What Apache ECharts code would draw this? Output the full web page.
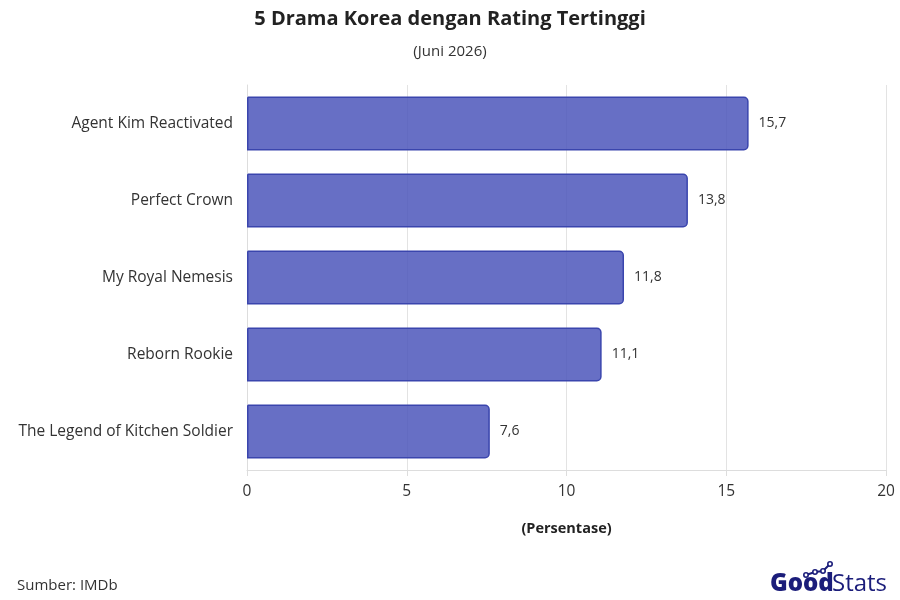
<!DOCTYPE html>
<html>
<head>
<meta charset="utf-8">
<script src="https://cdn.jsdelivr.net/npm/echarts@6/dist/echarts.min.js"></script>
<style>
  html, body { margin: 0; padding: 0; background: #fff; }
  #chart { width: 900px; height: 600px; }
</style>
</head>
<body>
<div id="chart"></div>
<script>
// data
var dramaNames = [
  'Agent Kim Reactivated',
  'Perfect Crown',
  'My Royal Nemesis',
  'Reborn Rookie',
  'The Legend of Kitchen Soldier'
];
var ratingValues = [15.7, 13.8, 11.8, 11.1, 7.6];
var axisTicks = [0, 5, 10, 15, 20];

var font = '"Open Sans", sans-serif';
var chart = echarts.init(document.getElementById('chart'));

var option = {
  backgroundColor: '#ffffff',
  animation: false,
  title: {
    text: '5 Drama Korea dengan Rating Tertinggi',
    subtext: '(Juni 2026)',
    left: 'center',
    top: 4,
    itemGap: 15,
    textStyle: { fontFamily: font, fontSize: 20, fontWeight: 'bold', color: '#222' },
    subtextStyle: { fontFamily: font, fontSize: 15, color: '#333' }
  },
  grid: { left: 247, right: 14, top: 85, bottom: 130 },
  xAxis: {
    type: 'value',
    min: axisTicks[0],
    max: axisTicks[axisTicks.length - 1],
    interval: 5,
    name: '(Persentase)',
    nameLocation: 'middle',
    nameGap: 51,
    nameTextStyle: { fontFamily: font, fontSize: 14.5, fontWeight: 'bold', color: '#222' },
    axisLine: { show: true, lineStyle: { color: '#dddddd' } },
    axisTick: { show: true, length: 6, lineStyle: { color: '#dddddd' } },
    axisLabel: { fontFamily: font, fontSize: 15.5, color: '#333', margin: 14 },
    splitLine: { show: true, lineStyle: { color: '#e3e3e3' } }
  },
  yAxis: {
    type: 'category',
    inverse: true,
    data: dramaNames,
    axisLine: { show: true, lineStyle: { color: '#dddddd' } },
    axisTick: { show: false },
    axisLabel: { fontFamily: font, fontSize: 15.5, color: '#333', margin: 14 }
  },
  series: [{
    type: 'bar',
    data: ratingValues,
    barWidth: 54,
    itemStyle: {
      color: 'rgba(72, 82, 185, 0.83)',
      borderColor: '#3a45ad',
      borderWidth: 1.5,
      borderRadius: [0, 4, 4, 0]
    },
    label: {
      show: true,
      position: 'right',
      distance: 10,
      fontFamily: font,
      fontSize: 14,
      color: '#333',
      formatter: function (p) { return String(p.value).replace('.', ','); }
    }
  }],
  graphic: [
    {
      type: 'text',
      left: 17,
      top: 578,
      style: { text: 'Sumber: IMDb', fontFamily: font, fontSize: 15, fill: '#333' }
    },
    {
      type: 'text',
      left: 770,
      top: 572,
      style: { text: 'Good', fontFamily: font, fontSize: 24, fontWeight: 800, fill: '#1b1d7a' }
    },
    {
      type: 'text',
      left: 832,
      top: 572,
      style: { text: 'Stats', fontFamily: font, fontSize: 24, fontWeight: 'normal', fill: '#1b1d7a' }
    },
    {
      type: 'polyline',
      shape: { points: [[806, 575], [815, 572], [823, 571], [830, 564]] },
      style: { stroke: '#1b1d7a', lineWidth: 2, fill: null }
    },
    { type: 'circle', shape: { cx: 806, cy: 575, r: 2.2 }, style: { fill: '#fff', stroke: '#1b1d7a', lineWidth: 1.6 } },
    { type: 'circle', shape: { cx: 815, cy: 572, r: 2.2 }, style: { fill: '#fff', stroke: '#1b1d7a', lineWidth: 1.6 } },
    { type: 'circle', shape: { cx: 823, cy: 571, r: 2.2 }, style: { fill: '#fff', stroke: '#1b1d7a', lineWidth: 1.6 } },
    { type: 'circle', shape: { cx: 830, cy: 564, r: 2.2 }, style: { fill: '#fff', stroke: '#1b1d7a', lineWidth: 1.6 } }
  ]
};

chart.setOption(option);
</script>
</body>
</html>
